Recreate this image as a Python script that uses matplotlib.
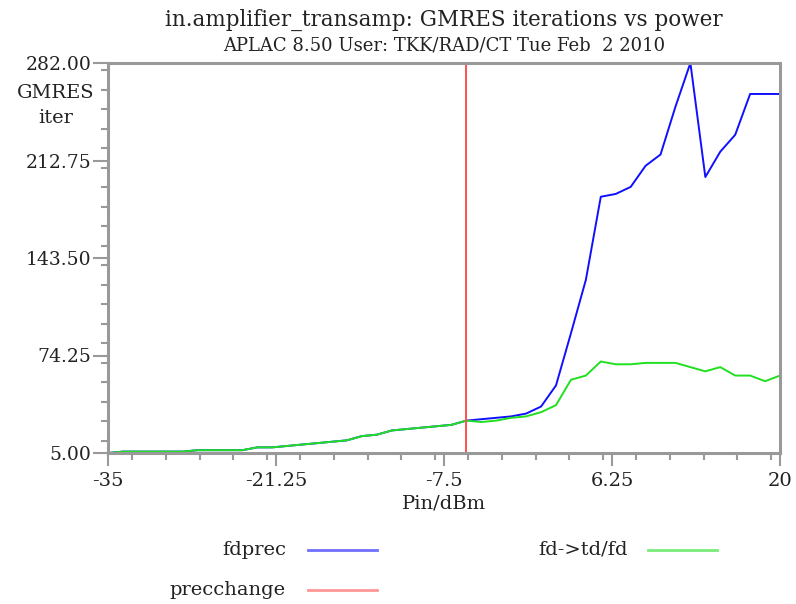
import numpy as np
import matplotlib.pyplot as plt
from matplotlib.lines import Line2D
from matplotlib.ticker import MultipleLocator, FixedLocator

plt.rcParams['font.family'] = ['DejaVu Serif']

# Pin sweep, -35 .. 20 dBm, 46 points
pin = np.linspace(-35, 20, 46)

# common part (both curves overlap up to the precchange point)
common = [5, 6, 6, 6, 6, 6, 7, 7, 7, 7, 9, 9, 10, 11, 12, 13, 14, 17, 18, 21,
          22, 23, 24, 25, 28]
fdprec = common + [29, 30, 31, 33, 38, 53, 90, 128, 187, 189, 194, 209, 217,
                   251, 282, 201, 219, 231, 260, 260, 260]
fdtdfd = common + [27, 28, 30, 31, 34, 39, 57, 60, 70, 68, 68, 69, 69, 69,
                   66, 63, 66, 60, 60, 56, 60]
precchange = pin[24]

xticks = [-35, -21.25, -7.5, 6.25, 20]
xlabels = ["-35", "-21.25", "-7.5", "6.25", "20"]
yticks = [5.00, 74.25, 143.50, 212.75, 282.00]
ylabels = ["5.00", "74.25", "143.50", "212.75", "282.00"]

blue = "#1010ff"
green = "#20e020"
red = "#ff5050"
gray = "#999999"

fig = plt.figure(figsize=(7.96, 6.04), dpi=100)
ax = fig.add_axes([108 / 796, 1 - 453 / 604, 672 / 796, 390 / 604])

ax.plot(pin, fdprec, color=blue, lw=1.4)
ax.plot(pin, fdtdfd, color=green, lw=1.4)
ax.axvline(precchange, color=red, lw=1.4)

ax.set_xlim(-35, 20)
ax.set_ylim(5, 282)
ax.xaxis.set_major_locator(FixedLocator(xticks))
ax.set_xticklabels(xlabels)
ax.xaxis.set_minor_locator(MultipleLocator(2.75))
ax.yaxis.set_major_locator(FixedLocator(yticks))
ax.set_yticklabels(ylabels)
ax.yaxis.set_minor_locator(MultipleLocator(13.85))

for s in ax.spines.values():
    s.set_color(gray)
    s.set_linewidth(2.2)
ax.tick_params(which="major", direction="out", width=1.5, color=gray,
               labelsize=14, labelcolor="#222222")
ax.tick_params(axis="y", labelsize=13.5)
ax.tick_params(axis="x", which="major", length=9, pad=5)
ax.tick_params(axis="y", which="major", length=11, pad=1)
ax.tick_params(which="minor", direction="out", length=5, width=1.5,
               color=gray)

ax.set_xlabel("Pin/dBm", fontsize=14, labelpad=3, color="#222222")
fig.text(56 / 796, 1 - 93 / 604, "GMRES", ha="center", va="center",
         fontsize=14, color="#222222")
fig.text(56 / 796, 1 - 118 / 604, "iter", ha="center", va="center",
         fontsize=14, color="#222222")

fig.text(444 / 796, 1 - 20 / 604,
         "in.amplifier_transamp: GMRES iterations vs power",
         ha="center", va="center", fontsize=15.5, color="#222222")
fig.text(444 / 796, 1 - 46 / 604,
         "APLAC 8.50 User: TKK/RAD/CT Tue Feb  2 2010",
         ha="center", va="center", fontsize=13, color="#222222")

# legend
def legend_entry(xt, y, x0, x1, label, color):
    fig.text(xt / 796, 1 - y / 604, label, ha="right", va="center",
             fontsize=14, color="#222222")
    fig.add_artist(Line2D([x0 / 796, x1 / 796], [1 - y / 604, 1 - y / 604],
                          color=color, lw=2, alpha=0.6))

legend_entry(286, 550, 308, 377, "fdprec", blue)
legend_entry(628, 550, 648, 717, "fd->td/fd", green)
legend_entry(286, 590, 308, 377, "precchange", red)

fig.savefig("out.png", dpi=100)
